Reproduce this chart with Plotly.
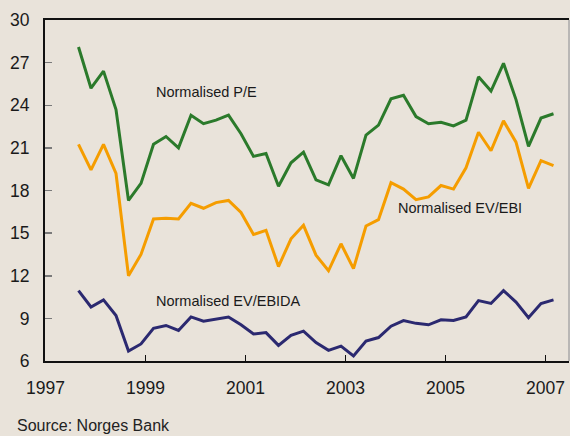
import plotly.graph_objects as go

# Quarterly observations, first one in Q3 1997
start_year = 1997.66
quarter_step = 0.25

pe = [28.1, 25.2, 26.4, 23.7, 17.3, 18.5, 21.25, 21.8, 21.0, 23.3,
      22.7, 22.95, 23.3, 22.0, 20.4, 20.6, 18.3, 19.95, 20.7, 18.75,
      18.4, 20.45, 18.85, 21.9, 22.6, 24.45, 24.7, 23.2, 22.7, 22.8,
      22.55, 22.95, 26.0, 25.0, 26.95, 24.4, 21.1, 23.1, 23.4]

ev_ebi = [21.25, 19.45, 21.25, 19.2, 12.0, 13.5, 16.0, 16.05, 16.0, 17.1,
          16.75, 17.15, 17.3, 16.45, 14.9, 15.2, 12.65, 14.6, 15.55, 13.45,
          12.35, 14.25, 12.5, 15.5, 15.95, 18.55, 18.1, 17.35, 17.55, 18.35,
          18.1, 19.6, 22.1, 20.8, 22.9, 21.4, 18.15, 20.1, 19.75]

ev_ebida = [10.95, 9.8, 10.3, 9.2, 6.7, 7.2, 8.3, 8.5, 8.15, 9.1,
            8.8, 8.95, 9.1, 8.55, 7.9, 8.0, 7.1, 7.8, 8.1, 7.3,
            6.75, 7.05, 6.35, 7.4, 7.65, 8.45, 8.85, 8.65, 8.55, 8.9,
            8.85, 9.1, 10.25, 10.05, 10.95, 10.15, 9.05, 10.05, 10.3]

x = [start_year + quarter_step * i for i in range(len(pe))]

series_names = ["Normalised P/E", "Normalised EV/EBI", "Normalised EV/EBIDA"]
series_colors = ["#2b7a2b", "#f59d00", "#2b2970"]
label_x = [1999.17, 2004.0, 1999.16]
label_y = [24.9, 16.8, 10.25]

year_ticks = [1997, 1999, 2001, 2003, 2005, 2007]
value_ticks = [6, 9, 12, 15, 18, 21, 24, 27, 30]

bg = "#e9e3da"
font_family = "Liberation Sans, Arial, sans-serif"

fig = go.Figure()
for name, vals, col in zip(series_names, [pe, ev_ebi, ev_ebida], series_colors):
    fig.add_trace(go.Scatter(x=x, y=vals, mode="lines", name=name,
                             line=dict(color=col, width=3),
                             showlegend=False, hoverinfo="skip"))

for name, lx, ly in zip(series_names, label_x, label_y):
    fig.add_annotation(x=lx, y=ly, text=name, showarrow=False,
                       xanchor="left", yanchor="middle",
                       font=dict(size=14.5, color="#1a1a1a", family=font_family))

fig.add_annotation(xref="paper", yref="paper", x=-0.0573, y=-0.188,
                   text="Source: Norges Bank", showarrow=False,
                   xanchor="left", yanchor="middle",
                   font=dict(size=16, color="#222222", family=font_family))

# right border (light grey)
fig.add_shape(type="line", xref="paper", yref="paper", x0=1, x1=1, y0=0, y1=1,
              line=dict(color="#a8a8a8", width=1.5))

fig.update_layout(
    width=570, height=436,
    margin=dict(l=45, r=1, t=20, b=75),
    paper_bgcolor=bg, plot_bgcolor=bg,
    font=dict(family=font_family, color="#1a1a1a", size=17),
    xaxis=dict(range=[1996.99, 2007.47], tickmode="array", tickvals=year_ticks,
               ticktext=[str(v) for v in year_ticks],
               ticks="inside", ticklen=6, tickwidth=1.5, tickcolor="#111111",
               showline=True, linecolor="#111111", linewidth=2, mirror=True,
               showgrid=False, zeroline=False, ticklabelstandoff=10,
               tickfont=dict(size=17.5)),
    yaxis=dict(range=[6, 30], tickmode="array", tickvals=value_ticks,
               ticktext=[str(v) for v in value_ticks],
               ticks="inside", ticklen=7, tickwidth=1.5, tickcolor="#7a7a7a",
               showline=True, linecolor="#111111", linewidth=2,
               showgrid=False, zeroline=False, ticklabelstandoff=10,
               tickfont=dict(size=17.5)),
)

fig.write_html(
    "out.html",
    config={"displayModeBar": False, "staticPlot": True},
    post_script="document.body.style.margin='0px';document.body.style.padding='0px';"
                "document.body.style.background='%s';document.body.style.overflow='hidden';" % bg,
)
